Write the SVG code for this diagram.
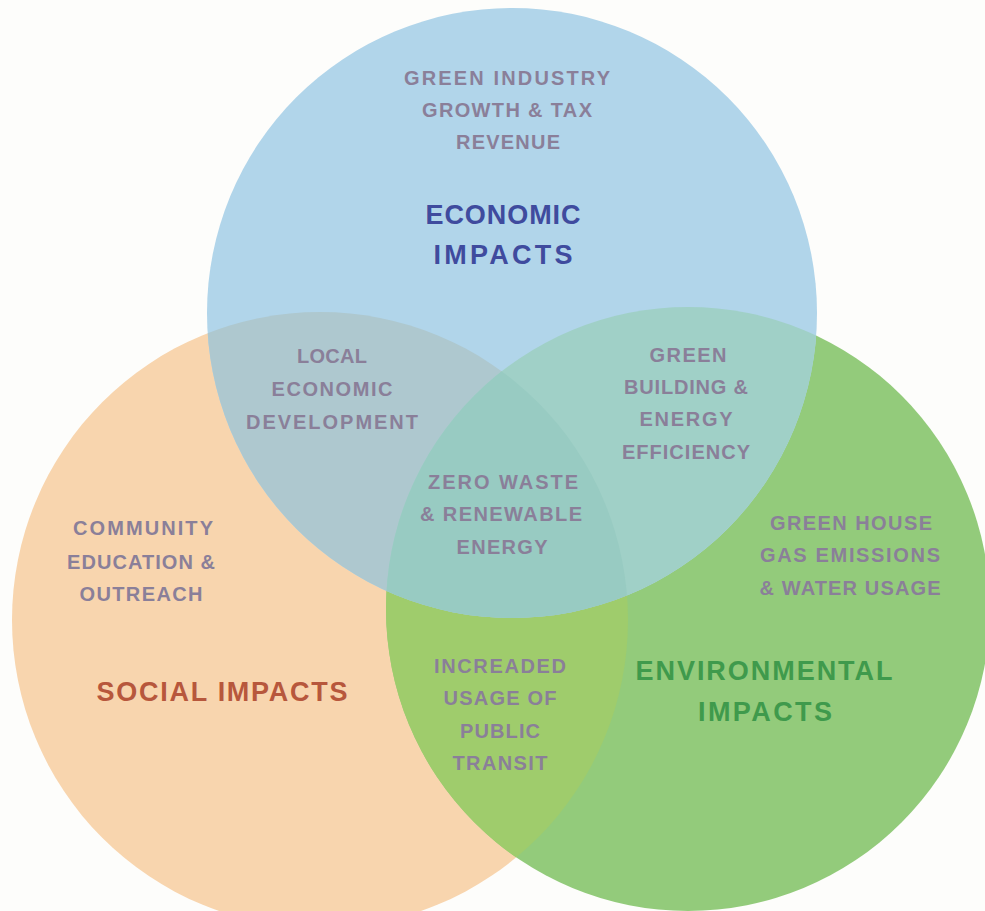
<svg xmlns="http://www.w3.org/2000/svg" width="985" height="911" viewBox="0 0 985 911">
  <defs>
    <!-- circle geometry, reused for fills and clipping -->
    <circle id="c-econ" cx="512" cy="313" r="305"/>
    <circle id="c-soc" cx="320" cy="620" r="308"/>
    <circle id="c-env" cx="688" cy="609" r="302"/>
    <clipPath id="clip-econ"><use href="#c-econ"/></clipPath>
    <clipPath id="clip-soc"><use href="#c-soc"/></clipPath>
    <clipPath id="clip-env"><use href="#c-env"/></clipPath>
    <style>
      .lbl { font-family: "Liberation Sans", Arial, sans-serif; font-weight: bold; font-size: 20px; fill: #8a7f99; text-anchor: middle; }
      .head { font-family: "Liberation Sans", Arial, sans-serif; font-weight: bold; font-size: 27px; text-anchor: middle; }
      .econ-h { fill: #3f4b9e; }
      .soc-h { fill: #b7573c; }
      .env-h { fill: #3f9a4c; }
    </style>
  </defs>

  <rect width="985" height="911" fill="#fdfdfb"/>

  <!-- base circles -->
  <g id="social">
    <use href="#c-soc" fill="#f8d5ae"/>
  </g>
  <g id="environmental">
    <use href="#c-env" fill="#93cb7b"/>
  </g>
  <g id="economic">
    <use href="#c-econ" fill="#b1d5ea"/>
  </g>

  <!-- pairwise and triple overlaps -->
  <g id="overlaps">
    <g clip-path="url(#clip-soc)"><use href="#c-env" fill="#9fcc6c"/></g>
    <g clip-path="url(#clip-econ)"><use href="#c-soc" fill="#aec8cf"/></g>
    <g clip-path="url(#clip-econ)"><use href="#c-env" fill="#a0d0c7"/></g>
    <g clip-path="url(#clip-econ)"><g clip-path="url(#clip-soc)"><use href="#c-env" fill="#98cbc2"/></g></g>
  </g>

  <!-- economic labels -->
  <g id="economic-labels">
    <text class="lbl" x="507" y="85" textLength="206" lengthAdjust="spacing">GREEN INDUSTRY</text>
    <text class="lbl" x="507" y="117" textLength="170" lengthAdjust="spacing">GROWTH &amp; TAX</text>
    <text class="lbl" x="508" y="149" textLength="104" lengthAdjust="spacing">REVENUE</text>
    <text class="head econ-h" x="503" y="224" textLength="155" lengthAdjust="spacing">ECONOMIC</text>
    <text class="head econ-h" x="503" y="264" textLength="139" lengthAdjust="spacing">IMPACTS</text>
  </g>

  <!-- economic + social -->
  <g id="local-economic">
    <text class="lbl" x="332" y="363" textLength="70" lengthAdjust="spacing">LOCAL</text>
    <text class="lbl" x="332" y="396" textLength="121" lengthAdjust="spacing">ECONOMIC</text>
    <text class="lbl" x="332" y="429" textLength="172" lengthAdjust="spacing">DEVELOPMENT</text>
  </g>

  <!-- economic + environmental -->
  <g id="green-building">
    <text class="lbl" x="688" y="362" textLength="77" lengthAdjust="spacing">GREEN</text>
    <text class="lbl" x="686" y="394" textLength="124" lengthAdjust="spacing">BUILDING &amp;</text>
    <text class="lbl" x="686" y="426" textLength="93" lengthAdjust="spacing">ENERGY</text>
    <text class="lbl" x="686" y="459" textLength="128" lengthAdjust="spacing">EFFICIENCY</text>
  </g>

  <!-- all three -->
  <g id="zero-waste">
    <text class="lbl" x="503" y="489" textLength="150" lengthAdjust="spacing">ZERO WASTE</text>
    <text class="lbl" x="501" y="521" textLength="162" lengthAdjust="spacing">&amp; RENEWABLE</text>
    <text class="lbl" x="502" y="554" textLength="91" lengthAdjust="spacing">ENERGY</text>
  </g>

  <!-- environmental only -->
  <g id="greenhouse">
    <text class="lbl" x="851" y="530" textLength="162" lengthAdjust="spacing">GREEN HOUSE</text>
    <text class="lbl" x="850" y="562" textLength="180" lengthAdjust="spacing">GAS EMISSIONS</text>
    <text class="lbl" x="850" y="595" textLength="181" lengthAdjust="spacing">&amp; WATER USAGE</text>
  </g>

  <!-- social only -->
  <g id="community">
    <text class="lbl" x="143" y="535" textLength="140" lengthAdjust="spacing">COMMUNITY</text>
    <text class="lbl" x="141" y="569" textLength="148" lengthAdjust="spacing">EDUCATION &amp;</text>
    <text class="lbl" x="141" y="601" textLength="123" lengthAdjust="spacing">OUTREACH</text>
  </g>
  <g id="social-labels">
    <text class="head soc-h" x="222" y="701" textLength="251" lengthAdjust="spacing">SOCIAL IMPACTS</text>
  </g>

  <!-- social + environmental -->
  <g id="public-transit">
    <text class="lbl" x="500" y="673" textLength="132" lengthAdjust="spacing">INCREADED</text>
    <text class="lbl" x="500" y="705" textLength="113" lengthAdjust="spacing">USAGE OF</text>
    <text class="lbl" x="500" y="738" textLength="80" lengthAdjust="spacing">PUBLIC</text>
    <text class="lbl" x="500" y="770" textLength="95" lengthAdjust="spacing">TRANSIT</text>
  </g>

  <!-- environmental heading -->
  <g id="environmental-labels">
    <text class="head env-h" x="764" y="680" textLength="257" lengthAdjust="spacing">ENVIRONMENTAL</text>
    <text class="head env-h" x="765" y="721" textLength="134" lengthAdjust="spacing">IMPACTS</text>
  </g>
</svg>
